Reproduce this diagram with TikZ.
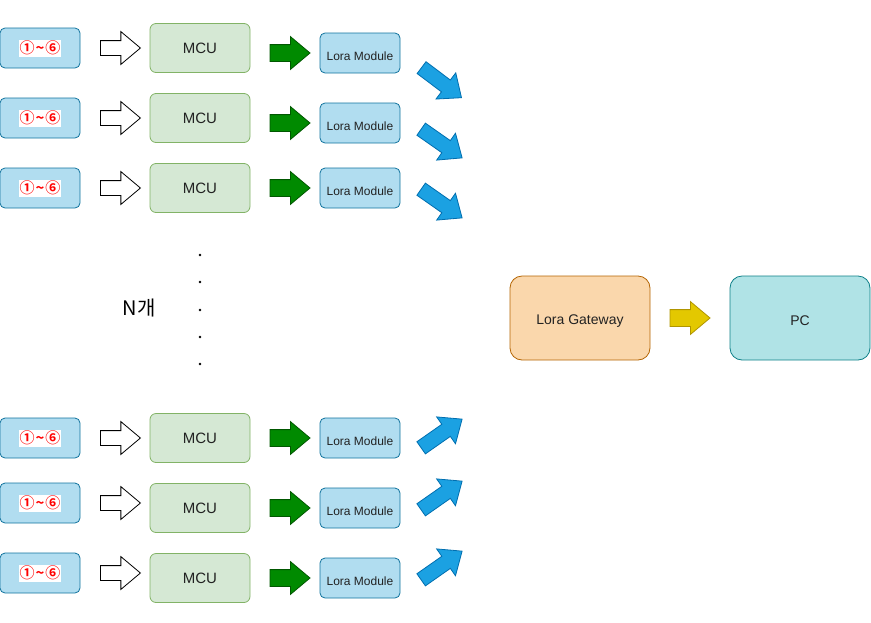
\documentclass[tikz,border=0pt]{standalone}
\usepackage{fontspec}
\setmainfont{Liberation Sans}
\newfontfamily\kr{Noto Sans CJK KR}
\newfontfamily\krb{Noto Sans CJK KR Bold}
\usetikzlibrary{shapes.arrows}
\newcommand{\lowertext}[2]{\raisebox{-#1}[\height][\depth]{#2}}
\definecolor{srcfill}{HTML}{B1DDF0}\definecolor{srcdraw}{HTML}{10739E}
\definecolor{mcufill}{HTML}{D5E8D4}\definecolor{mcudraw}{HTML}{82B366}
\definecolor{gwfill}{HTML}{FAD7AC}\definecolor{gwdraw}{HTML}{B46504}
\definecolor{pcfill}{HTML}{B0E3E6}\definecolor{pcdraw}{HTML}{0E8088}
\definecolor{grfill}{HTML}{008A00}\definecolor{grdraw}{HTML}{005700}
\definecolor{blfill}{HTML}{1BA1E2}\definecolor{bldraw}{HTML}{006EAF}
\definecolor{yefill}{HTML}{E3C800}\definecolor{yedraw}{HTML}{B09500}
\definecolor{txt}{HTML}{222222}
\definecolor{numred}{HTML}{FF0000}
\tikzset{
  srcbox/.style={draw=srcdraw,fill=srcfill,rounded corners=5pt,minimum width=80pt,minimum height=40pt,inner sep=0pt,line width=0.8pt},
  nums/.style={fill=white,text=numred,inner xsep=1pt,minimum height=17pt,inner ysep=0pt,font=\krb\fontsize{15}{15}\selectfont},
  mcubox/.style={draw=mcudraw,fill=mcufill,rounded corners=6pt,minimum width=100pt,minimum height=49pt,inner sep=0pt,line width=0.8pt,font=\fontsize{15}{15}\selectfont,text=txt},
  lorabox/.style={draw=srcdraw,fill=srcfill,rounded corners=5pt,minimum width=80pt,minimum height=40pt,inner sep=0pt,line width=0.8pt,font=\fontsize{12}{12}\selectfont,text=txt},
  bigbox/.style={rounded corners=12pt,minimum width=140pt,minimum height=84pt,inner sep=0pt,line width=0.8pt,font=\fontsize{14}{14}\selectfont,text=txt},
  barrow/.style={single arrow,inner xsep=0pt,inner ysep=7pt,single arrow head extend=9pt,single arrow tip angle=80,minimum height=40pt,line width=0.8pt},
  outarrow/.style={barrow,draw=black,fill=white},
  grarrow/.style={barrow,draw=grdraw,fill=grfill,inner ysep=8pt,single arrow head extend=8pt},
  blarrow/.style={barrow,draw=bldraw,fill=blfill,minimum height=50pt,inner ysep=7pt,single arrow head extend=9pt},
  yearrow/.style={barrow,draw=yedraw,fill=yefill,inner ysep=8pt,single arrow head extend=8pt}
}
\begin{document}
\begin{tikzpicture}[x=1pt,y=-1pt]
\useasboundingbox (0,0) rectangle (871,622);
\foreach \i/\ys/\ym/\yl/\ang/\ya in {1/48/48/53/-37/80,2/118/118/123/-35/141,3/188/188/188/-35/201,4/438/438/438/35/436,5/503/508/508/35/498,6/573/578/578/35/568}{
  \node[srcbox] (s\i) at (40,\ys) {};
  \node[nums] (n\i) at (s\i) {①\kern1pt\raisebox{0.5pt}{\char"007E}\kern1pt⑥};
  \node[outarrow] (oa\i) at (116,\ys) {};
  \node[mcubox] (m\i) at (200,\ym) {MCU};
  \node[grarrow] (ga\i) at (285,\yl) {};
  \node[lorabox] (l\i) at (360,\yl) {\lowertext{3pt}{Lora Module}};
  \node[blarrow,rotate=\ang] (ba\i) at (438,\ya) {};
}
\node[font=\kr\fontsize{20}{20}\selectfont,text=black,inner sep=0pt] (nlabel) at (139,308) {N개};
\foreach \k/\y in {1/255,2/282,3/310,4/337,5/364}{
  \fill (200,\y) circle (1.3pt) coordinate (d\k);
}
\node[bigbox,draw=gwdraw,fill=gwfill] (gw) at (580,318) {\lowertext{3pt}{Lora Gateway}};
\node[yearrow] (ya) at (685,318) {};
\node[bigbox,draw=pcdraw,fill=pcfill] (pc) at (800,318) {\lowertext{3pt}{PC}};
\end{tikzpicture}
\end{document}
